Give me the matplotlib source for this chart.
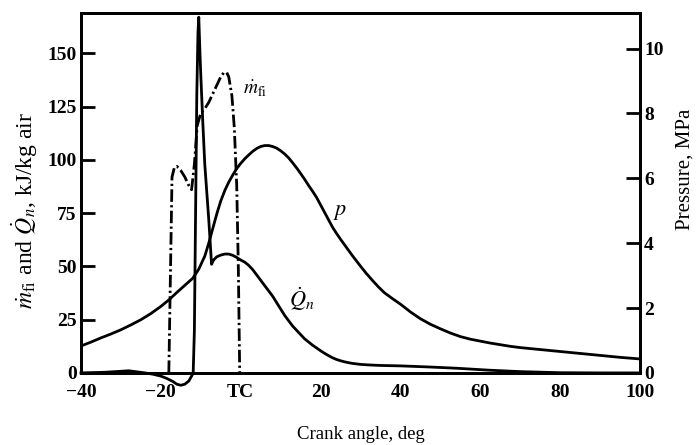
import numpy as np
import matplotlib
matplotlib.use("Agg")
import matplotlib.pyplot as plt

plt.rcParams['font.family'] = ['Liberation Serif', 'DejaVu Serif']
plt.rcParams['mathtext.fontset'] = 'stix'

# pressure, MPa (right axis)
p_deg = [-40, -37.5, -35, -32.5, -30, -27.5, -25, -22.5, -20, -18, -16, -14, -12, -10.5,
         -9, -8, -7, -6, -5, -4, -3, -2, -1, 0, 1, 2, 3, 4, 5, 6, 7, 8, 9, 10, 11, 12,
         13, 14, 15, 16, 17, 18, 19, 20, 21, 22, 23, 24, 25, 26, 27, 28, 29, 30, 31.5,
         33, 34.5, 36, 38, 40, 42.5, 45, 47.5, 50, 52.5, 55, 57.5, 60, 62.5, 65, 67.5,
         70, 75, 80, 85, 90, 95, 100]
p_mpa = [0.83, 0.95, 1.08, 1.2, 1.33, 1.48, 1.64, 1.83, 2.05, 2.25, 2.48, 2.7, 2.92, 3.2,
         3.6, 4.0, 4.45, 4.9, 5.3, 5.62, 5.88, 6.1, 6.3, 6.46, 6.6, 6.72, 6.83, 6.92, 6.98,
         7.01, 7.01, 6.98, 6.93, 6.85, 6.75, 6.63, 6.48, 6.32, 6.15, 5.97, 5.78, 5.6, 5.41,
         5.18, 4.95, 4.72, 4.49, 4.3, 4.12, 3.95, 3.78, 3.61, 3.45, 3.29, 3.06, 2.85, 2.65,
         2.47, 2.29, 2.12, 1.88, 1.67, 1.5, 1.36, 1.23, 1.12, 1.04, 0.98, 0.92, 0.87, 0.82,
         0.78, 0.72, 0.66, 0.6, 0.54, 0.48, 0.43]

# net heat release rate, kJ/kg air (left axis)
q_deg = [-40, -34, -28, -24, -22, -20, -18.5, -17, -16, -15, -14, -13, -12.3, -11.9,
         -11.6, -11.3, -11.0, -10.7, -10.5, -10.2, -10, -9.5, -9, -8.5, -8, -7.3, -6.8,
         -6, -5, -4, -3, -2, -1, 0, 1, 2, 3, 4, 5, 6, 7, 8, 9, 10, 11, 12, 13, 14, 15,
         16, 17, 18, 19, 20, 21, 22, 23, 24, 25, 26, 27, 28, 30, 32, 35, 40, 47, 54, 62,
         70, 80, 90, 100]
q_rate = [0, 0.3, 1.0, 0, -0.6, -1.5, -2.6, -4, -5.3, -5.8, -5.3, -3.8, -1.5, 0,
          20, 75, 130, 160, 167, 150, 140, 118, 98, 85, 72, 51, 53,
          54.5, 55.3, 55.8, 55.8, 55.2, 54.2, 53, 52, 50.5, 48.5, 46, 43.5, 41, 38.5, 36,
          33, 30, 27, 24.5, 22, 20, 18, 16, 14.5, 13, 11.7, 10.4, 9.2, 8.1, 7.1, 6.3, 5.7,
          5.2, 4.8, 4.45, 4.0, 3.75, 3.5, 3.3, 2.8, 2.2, 1.3, 0.6, 0.1, 0, 0]

# fuel injection rate, kJ/kg air (left axis)
m_deg = [-18, -17.2, -16.6, -16, -15, -14, -13, -12.3, -11.6, -10.9, -10, -9, -8, -7,
         -6, -5, -4.2, -3.5, -3, -2.2, -1.6, -1.0, -0.6, -0.25]
m_rate = [0, 92, 96.5, 97, 95, 92, 88, 86, 98, 116, 122, 124, 127, 131,
          135, 139, 141, 141, 139, 130, 115, 88, 50, 0]

xticks = [-40, -20, 0, 20, 40, 60, 80, 100]
xtick_labels = ['\u221240', '\u221220', 'TC', '20', '40', '60', '80', '100']

fig = plt.figure(figsize=(6.98, 4.45), dpi=100)
ax = fig.add_axes([0.116, 0.162, 0.801, 0.809])
ax2 = ax.twinx()

lw = 2.0
ax.plot(q_deg, q_rate, color='black', lw=lw, clip_on=False, zorder=3)
ax.plot(m_deg, m_rate, color='black', lw=lw, dashes=(4.5, 1.2, 0.8, 1.2), zorder=3)
ax2.plot(p_deg, p_mpa, color='black', lw=lw)

ax.set_xlim(-40, 100)
ax.set_ylim(0, 169)
ax2.set_ylim(0, 11.1)

ax.set_xticks(xticks)
ax.set_xticklabels(xtick_labels)
ax.set_yticks([0, 25, 50, 75, 100, 125, 150])
ax2.set_yticks([0, 2, 4, 6, 8, 10])

for a in (ax, ax2):
    for s in a.spines.values():
        s.set_linewidth(2.0)
    for lab in a.get_xticklabels() + a.get_yticklabels():
        lab.set_fontweight('bold')
ax.tick_params(axis='y', direction='in', length=10, width=2, labelsize=14, pad=3)
ax.tick_params(axis='x', direction='in', length=0, labelsize=14, pad=8)
ax2.tick_params(axis='y', direction='in', length=10, width=2, labelsize=14, pad=3)

ax.text(0.5, 131, r'$\dot{m}_{\rm fi}$', fontsize=14)
ax.text(23, 74, r'$p$', fontsize=16)
ax.text(12, 31, r'$\dot{Q}_n$', fontsize=16)

fig.text(0.5165, 0.024, 'Crank angle, deg', ha='center', va='center', fontsize=13.5)
fig.text(0.036, 0.528, r'$\dot{m}_{\rm fi}$ and $\dot{Q}_n$, kJ/kg air',
         ha='center', va='center', rotation=90, fontsize=17)
fig.text(0.981, 0.62, 'Pressure, MPa', ha='center', va='center', rotation=90, fontsize=15)

fig.savefig('out.png', dpi=100)
